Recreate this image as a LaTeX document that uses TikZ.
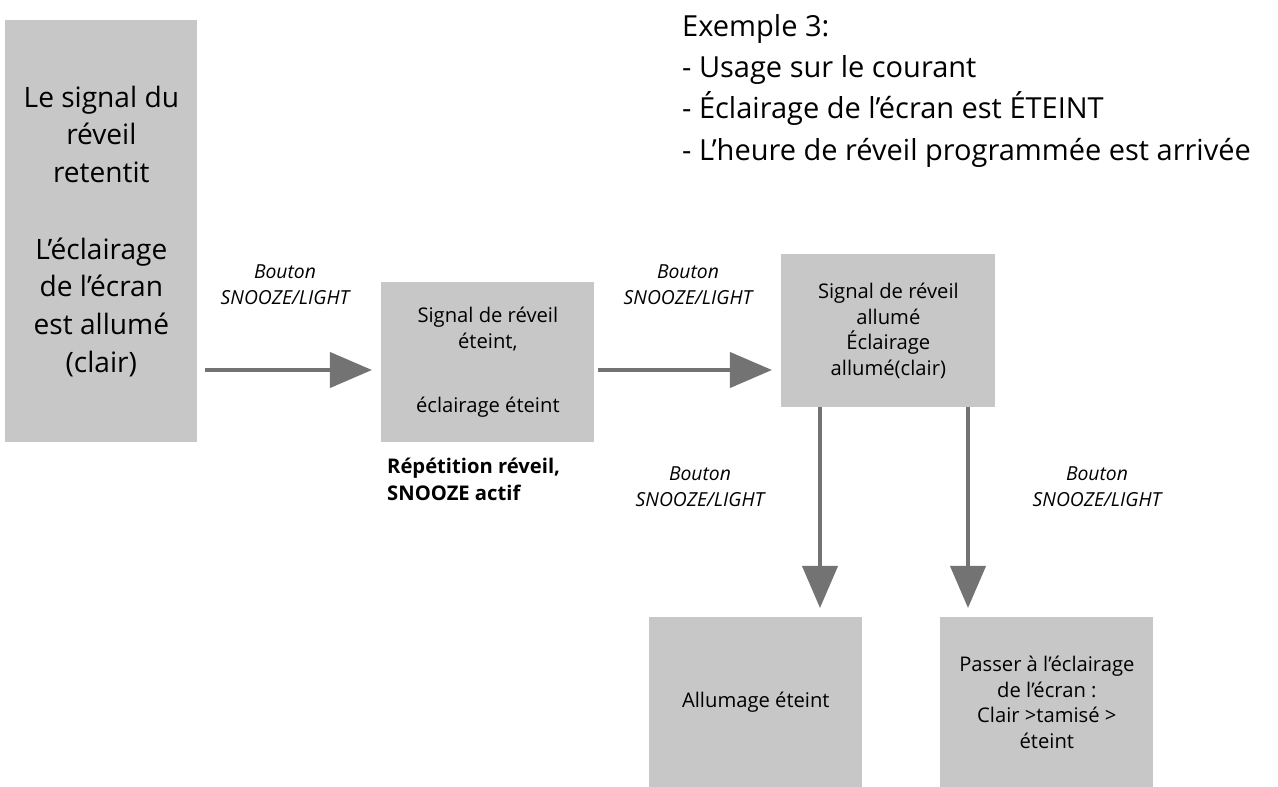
\documentclass[tikz,border=0pt]{standalone}
\usepackage{fontspec}
\setmainfont{Open Sans}
\usetikzlibrary{arrows.meta}
\begin{document}
\begin{tikzpicture}[x=0.02cm,y=-0.02cm,
  box/.style={fill=black!22,draw=none,align=center,inner sep=0pt,font=\fontsize{11.5}{14.5}\selectfont},
  big/.style={font=\fontsize{16}{21.5}\selectfont},
  arr/.style={draw=black!55,line width=2.3pt,-{Triangle[length=24pt,width=20pt]}},
  lab/.style={align=center,font=\fontsize{11}{15}\selectfont\itshape}]
\useasboundingbox (0,0) rectangle (1278,787);
\node[box,big,minimum width=192*0.02cm,minimum height=422*0.02cm,anchor=north west] (b1) at (5,20) {Le signal du\\réveil\\retentit\\[22pt]L{\char39}éclairage\\de l{\char39}écran\\est allumé\\(clair)};
\node[box,minimum width=213*0.02cm,minimum height=160*0.02cm,anchor=north west] (b2) at (381,282) {Signal de réveil\\éteint,\\[22pt]éclairage éteint};
\node[box,minimum width=214*0.02cm,minimum height=153*0.02cm,anchor=north west] (b3) at (781,254) {Signal de réveil\\allumé\\Éclairage\\allumé(clair)};
\node[box,minimum width=213*0.02cm,minimum height=170*0.02cm,anchor=north west] (b4) at (649,617) {Allumage éteint};
\node[box,minimum width=213*0.02cm,minimum height=170*0.02cm,anchor=north west] (b5) at (940,617) {Passer à l’éclairage\\de l’écran :\\Clair >tamisé >\\éteint};
\node[align=left,anchor=north west,font=\fontsize{11.5}{15}\selectfont\bfseries] (rep) at (381,452) {Répétition réveil,\\SNOOZE actif};
\node[align=left,anchor=north west,font=\fontsize{16.5}{23.5}\selectfont] (title) at (676,8) {Exemple 3:\\- Usage sur le courant\\- Éclairage de l’écran est ÉTEINT\\- L’heure de réveil programmée est arrivée};
\coordinate (a1s) at (205,370); \coordinate (a1e) at (372,370);
\coordinate (a2s) at (598,370); \coordinate (a2e) at (772,370);
\coordinate (a3s) at (820,407); \coordinate (a3e) at (820,608);
\coordinate (a4s) at (968,407); \coordinate (a4e) at (968,608);
\draw[arr] (a1s) -- (a1e);
\draw[arr] (a2s) -- (a2e);
\draw[arr] (a3s) -- (a3e);
\draw[arr] (a4s) -- (a4e);
\node[lab] (l1) at (285,285) {Bouton\\SNOOZE/LIGHT};
\node[lab] (l2) at (688,285) {Bouton\\SNOOZE/LIGHT};
\node[lab] (l3) at (700,487) {Bouton\\SNOOZE/LIGHT};
\node[lab] (l4) at (1097,487) {Bouton\\SNOOZE/LIGHT};
\end{tikzpicture}
\end{document}
